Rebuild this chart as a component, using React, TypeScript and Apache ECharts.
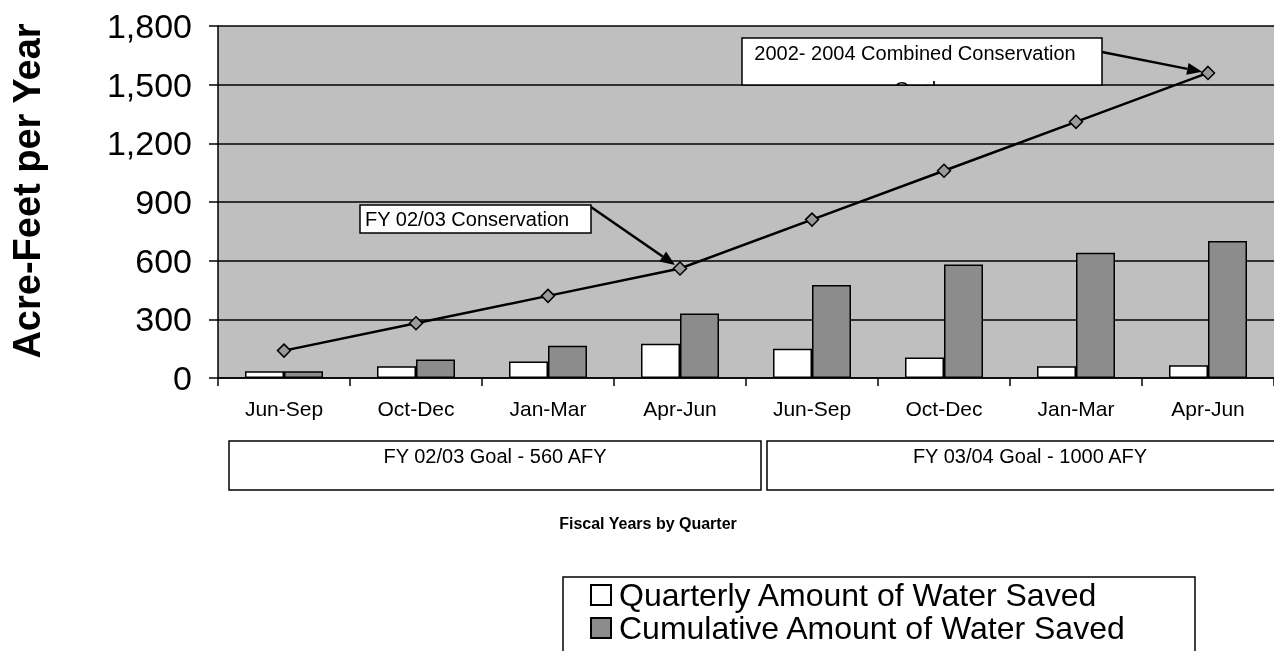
import React, { useEffect, useRef } from "react";
import * as echarts from "echarts";

const categories = ["Jun-Sep", "Oct-Dec", "Jan-Mar", "Apr-Jun", "Jun-Sep", "Oct-Dec", "Jan-Mar", "Apr-Jun"];
const quarterlySaved = [35, 60, 85, 175, 150, 105, 60, 65];
const cumulativeSaved = [35, 95, 165, 330, 475, 580, 640, 700];
const conservationGoal = [140, 280, 420, 560, 810, 1060, 1310, 1560];
const yTicks = [0, 300, 600, 900, 1200, 1500, 1800];
const seriesNames = ["Quarterly Amount of Water Saved", "Cumulative Amount of Water Saved", "Conservation Goal"];
const fiscalGroups = ["FY 02/03 Goal - 560 AFY", "FY 03/04 Goal - 1000 AFY"];

const FONT = '"Liberation Sans", Arial, sans-serif';
const PLOT_BG = "#bfbfbf";

export default function App() {
  const ref = useRef<HTMLDivElement>(null);

  useEffect(() => {
    if (!ref.current) return;
    const chart = echarts.init(ref.current, null, { renderer: "svg" });
    const legendBase = {
      orient: "horizontal",
      left: 590,
      padding: 0,
      itemWidth: 20,
      itemHeight: 20,
      icon: "rect",
      textStyle: { fontSize: 32, color: "#000", fontFamily: FONT, padding: [0, 0, 0, 3] },
    };
    chart.setOption({
      animation: false,
      textStyle: { fontFamily: FONT, color: "#000" },
      grid: {
        left: 218,
        top: 26,
        width: 1066,
        height: 352,
        show: true,
        backgroundColor: PLOT_BG,
        borderWidth: 0,
      },
      legend: [
        { ...legendBase, data: [seriesNames[0]], top: 579 },
        { ...legendBase, data: [seriesNames[1]], top: 612 },
      ],
      xAxis: {
        type: "category",
        data: categories,
        axisLine: { lineStyle: { color: "#000", width: 1.5 } },
        axisTick: { show: true, length: 8, interval: 0, lineStyle: { color: "#000", width: 1.5 } },
        axisLabel: { interval: 0, fontSize: 21, color: "#000", margin: 20, fontFamily: FONT },
      },
      yAxis: {
        type: "value",
        min: yTicks[0],
        max: yTicks[yTicks.length - 1],
        interval: yTicks[1] - yTicks[0],
        axisLine: { show: true, lineStyle: { color: "#000", width: 1.5 } },
        axisTick: { show: true, length: 9, lineStyle: { color: "#000", width: 1.5 } },
        axisLabel: {
          fontSize: 34,
          color: "#000",
          margin: 26,
          fontFamily: FONT,
          formatter: (v: number) => v.toLocaleString("en-US"),
        },
        splitLine: { show: true, lineStyle: { color: "#000", width: 1.5 } },
      },
      series: [
        {
          name: seriesNames[0],
          type: "bar",
          data: quarterlySaved,
          barWidth: 39,
          barGap: "0%",
          itemStyle: { color: "#ffffff", borderColor: "#000", borderWidth: 1.5 },
        },
        {
          name: seriesNames[1],
          type: "bar",
          data: cumulativeSaved,
          barWidth: 39,
          barGap: "0%",
          itemStyle: { color: "#8c8c8c", borderColor: "#000", borderWidth: 1.5 },
        },
        {
          name: seriesNames[2],
          type: "line",
          data: conservationGoal,
          z: 5,
          symbol: "diamond",
          symbolSize: 13,
          lineStyle: { color: "#000", width: 2.5 },
          itemStyle: { color: "#9a9a9a", borderColor: "#000", borderWidth: 1.5 },
        },
      ],
    });

    const arrow = (from: number[], to: number[], offset: number) => {
      const dx = to[0] - from[0];
      const dy = to[1] - from[1];
      const len = Math.sqrt(dx * dx + dy * dy);
      const ux = dx / len;
      const uy = dy / len;
      const tip = [to[0] - ux * offset, to[1] - uy * offset];
      const base = [tip[0] - ux * 15, tip[1] - uy * 15];
      const px = -uy;
      const py = ux;
      return [
        {
          type: "line",
          z: 100,
          shape: { x1: from[0], y1: from[1], x2: base[0], y2: base[1] },
          style: { stroke: "#000", lineWidth: 2.5 },
        },
        {
          type: "polygon",
          z: 100,
          shape: {
            points: [tip, [base[0] + px * 6, base[1] + py * 6], [base[0] - px * 6, base[1] - py * 6]],
          },
          style: { fill: "#000" },
        },
      ];
    };

    const p4 = chart.convertToPixel({ seriesIndex: 2 }, [3, conservationGoal[3]]) as number[];
    const p8 = chart.convertToPixel({ seriesIndex: 2 }, [7, conservationGoal[7]]) as number[];

    const graphics: any[] = [
      {
        type: "text",
        x: 27,
        y: 191,
        rotation: Math.PI / 2,
        z: 100,
        style: {
          text: "Acre-Feet per Year",
          font: `bold 38px ${FONT}`,
          fill: "#000",
          align: "center",
          verticalAlign: "middle",
        },
      },
      {
        type: "rect",
        z: 99,
        shape: { x: 360, y: 205, width: 231, height: 28 },
        style: { fill: "#fff", stroke: "#000", lineWidth: 1.5 },
      },
      {
        type: "text",
        z: 100,
        x: 365,
        y: 219,
        style: { text: "FY 02/03 Conservation", font: `20px ${FONT}`, fill: "#000", align: "left", verticalAlign: "middle" },
      },
      ...arrow([591, 207], p4, 6),
      {
        type: "rect",
        z: 99,
        shape: { x: 742, y: 38, width: 360, height: 47 },
        style: { fill: "#fff", stroke: "#000", lineWidth: 1.5 },
      },
      {
        type: "text",
        z: 100,
        x: 915,
        y: 53,
        style: { text: "2002- 2004 Combined Conservation", font: `20px ${FONT}`, fill: "#000", align: "center", verticalAlign: "middle" },
      },
      {
        type: "text",
        z: 100,
        x: 915,
        y: 89,
        style: { text: "Goal", font: `20px ${FONT}`, fill: "#000", align: "center", verticalAlign: "middle" },
      },
      {
        type: "rect",
        z: 101,
        shape: { x: 880, y: 86, width: 70, height: 20 },
        style: { fill: PLOT_BG },
      },
      ...arrow([1102, 52], p8, 6),
      {
        type: "rect",
        z: 99,
        shape: { x: 229, y: 441, width: 532, height: 49 },
        style: { fill: "none", stroke: "#000", lineWidth: 1.5 },
      },
      {
        type: "text",
        z: 100,
        x: 495,
        y: 456,
        style: { text: fiscalGroups[0], font: `20px ${FONT}`, fill: "#000", align: "center", verticalAlign: "middle" },
      },
      {
        type: "rect",
        z: 99,
        shape: { x: 767, y: 441, width: 526, height: 49 },
        style: { fill: "none", stroke: "#000", lineWidth: 1.5 },
      },
      {
        type: "text",
        z: 100,
        x: 1030,
        y: 456,
        style: { text: fiscalGroups[1], font: `20px ${FONT}`, fill: "#000", align: "center", verticalAlign: "middle" },
      },
      {
        type: "text",
        z: 100,
        x: 648,
        y: 523,
        style: { text: "Fiscal Years by Quarter", font: `bold 16px ${FONT}`, fill: "#000", align: "center", verticalAlign: "middle" },
      },
      {
        type: "rect",
        z: 0,
        shape: { x: 563, y: 577, width: 632, height: 90 },
        style: { fill: "none", stroke: "#000", lineWidth: 1.5 },
      },
    ];

    chart.setOption({ graphic: { elements: graphics } });

    return () => chart.dispose();
  }, []);

  return <div ref={ref} style={{ position: "fixed", left: 0, top: 0, width: 1274, height: 651 }} />;
}
